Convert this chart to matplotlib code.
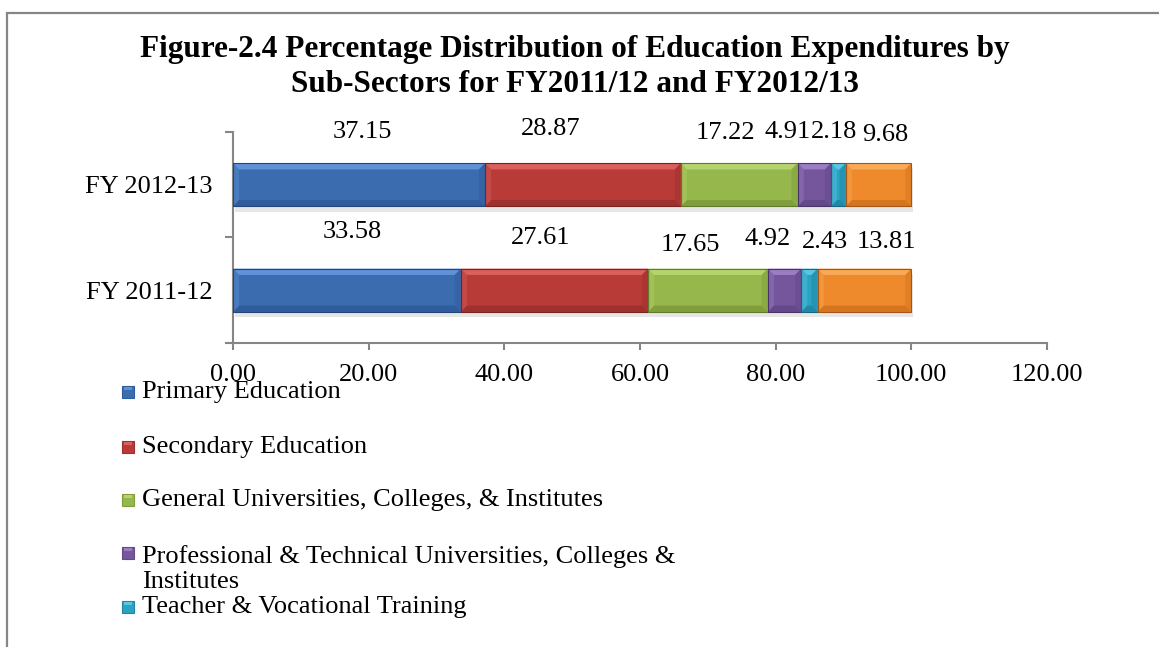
import matplotlib
matplotlib.use("Agg")
import matplotlib.pyplot as plt
from matplotlib.patches import Rectangle, Polygon
import numpy as np

# ---- data ----
years = ["FY 2011-12", "FY 2012-13"]
sectors = [
    "Primary Education",
    "Secondary Education",
    "General Universities, Colleges, & Institutes",
    "Professional & Technical Universities, Colleges &\nInstitutes",
    "Teacher & Vocational Training",
    "Others",
]
share_2011 = [33.58, 27.61, 17.65, 4.92, 2.43, 13.81]
share_2012 = [37.15, 28.87, 17.22, 4.91, 2.18, 9.68]
values = [share_2011, share_2012]

# hand-placed data label positions (x, y in data units)
label_x = [[17.6, 45.4, 67.4, 78.8, 87.3, 96.3],
           [19.0, 46.8, 72.6, 81.7, 88.6, 96.2]]
label_y = [[0.55, 0.50, 0.43, 0.49, 0.46, 0.46],
           [1.50, 1.53, 1.49, 1.50, 1.50, 1.47]]

xticks = [0, 20, 40, 60, 80, 100, 120]

# fill, highlight, shade, edge
palette = [
    ("#3c6cb0", "#5f92d8", "#2f5c9c", "#24447a"),
    ("#b93b38", "#d9605c", "#9e302e", "#7a2220"),
    ("#95b74b", "#b6d46e", "#809f3c", "#60792c"),
    ("#75569d", "#9a7dc4", "#63488a", "#4a3368"),
    ("#2aa2c0", "#5cc6e2", "#2088a6", "#17687f"),
    ("#ee8a2c", "#f8aa58", "#d5751f", "#a55614"),
]

W, H = 1159, 647
plt.rcParams["font.family"] = ["Liberation Serif", "DejaVu Serif"]

fig = plt.figure(figsize=(W / 100, H / 100), dpi=100)
ax = fig.add_axes([233 / W, 1 - 343 / H, (1047 - 233) / W, (343 - 132) / H])

bar_h = 0.41
bev_x = 0.9     # bevel width along x (data units)
bev_y = 0.06    # bevel width along y (data units)


def bevel_bar(ax, left, width, yc, cols):
    fill, light, dark, edge = cols
    y0, y1 = yc - bar_h / 2, yc + bar_h / 2
    x0, x1 = left, left + width
    bx = min(bev_x, width / 2)
    ax.add_patch(Rectangle((x0, y0), width, bar_h, facecolor=fill,
                           edgecolor="none", zorder=3))
    # top bevel (lighter)
    ax.add_patch(Polygon([(x0, y1), (x1, y1), (x1 - bx, y1 - bev_y), (x0 + bx, y1 - bev_y)],
                         closed=True, facecolor=light, edgecolor="none", zorder=4))
    # bottom bevel (darker)
    ax.add_patch(Polygon([(x0, y0), (x1, y0), (x1 - bx, y0 + bev_y), (x0 + bx, y0 + bev_y)],
                         closed=True, facecolor=dark, edgecolor="none", zorder=4))
    # side bevels
    ax.add_patch(Polygon([(x0, y0), (x0, y1), (x0 + bx, y1 - bev_y), (x0 + bx, y0 + bev_y)],
                         closed=True, facecolor=light, edgecolor="none", alpha=0.4, zorder=4))
    ax.add_patch(Polygon([(x1, y0), (x1, y1), (x1 - bx, y1 - bev_y), (x1 - bx, y0 + bev_y)],
                         closed=True, facecolor=dark, edgecolor="none", alpha=0.5, zorder=4))
    ax.add_patch(Rectangle((x0, y0), width, bar_h, facecolor="none",
                           edgecolor=edge, linewidth=0.8, zorder=5))


for i, row in enumerate(values):
    total = sum(row)
    # soft drop shadow under each bar
    ax.add_patch(Rectangle((0.3, i - bar_h / 2 - 0.05), total, bar_h,
                           facecolor="#e6e6e6", edgecolor="none", zorder=2))
    left = 0.0
    for j, v in enumerate(row):
        bevel_bar(ax, left, v, i, palette[j])
        left += v
    for j, v in enumerate(row):
        ax.text(label_x[i][j], label_y[i][j], f"{v:.2f}", ha="center", va="center",
                fontsize=19, color="black", zorder=6)

ax.set_xlim(0, 120)
ax.set_ylim(-0.5, 1.5)
ax.set_xticks(xticks)
ax.set_xticklabels([f"{t:.2f}" for t in xticks], fontsize=19)
ax.set_yticks([-0.5, 0.5, 1.5])
ax.set_yticklabels([])
ax.set_yticks([0, 1], minor=True)
ax.set_yticklabels(years, minor=True, fontsize=19)

for s in ["top", "right"]:
    ax.spines[s].set_visible(False)
for s in ["left", "bottom"]:
    ax.spines[s].set_color("#868686")
    ax.spines[s].set_linewidth(1.5)
ax.tick_params(axis="x", which="major", direction="out", length=5, width=1.5,
               color="#868686", pad=10)
ax.tick_params(axis="y", which="major", direction="out", length=6, width=1.5,
               color="#868686")
ax.tick_params(axis="y", which="minor", length=0, pad=15)

# title
fig.text(575 / W, 1 - 50 / H, "Figure-2.4 Percentage Distribution of Education Expenditures by",
         ha="center", va="center", fontsize=22.5, fontweight="bold")
fig.text(575 / W, 1 - 84 / H, "Sub-Sectors for FY2011/12 and FY2012/13",
         ha="center", va="center", fontsize=22.5, fontweight="bold")

# legend (only the first five entries fit on the page)
legend_y = [392, 447, 500, 569, 607]
for k, yy in enumerate(legend_y):
    fill, light, dark, edge = palette[k]
    my = yy if k != 3 else 553
    fig.add_artist(Rectangle((122 / W, 1 - (my + 6) / H), 12 / W, 12 / H,
                             transform=fig.transFigure, facecolor=fill,
                             edgecolor=dark, linewidth=0.8))
    fig.add_artist(Rectangle((124 / W, 1 - (my - 2) / H), 8 / W, 3 / H,
                             transform=fig.transFigure, facecolor=light,
                             edgecolor="none"))
    fig.text(142 / W, 1 - yy / H, sectors[k], ha="left", va="center",
             fontsize=19, linespacing=1.2)

# chart-area border (runs off the page at right and bottom)
fig.add_artist(Rectangle((7 / W, -0.1), 1.2, 1.1 - 13 / H, transform=fig.transFigure,
                         facecolor="none", edgecolor="#868686", linewidth=1.6))

fig.savefig("out.png", dpi=100)
